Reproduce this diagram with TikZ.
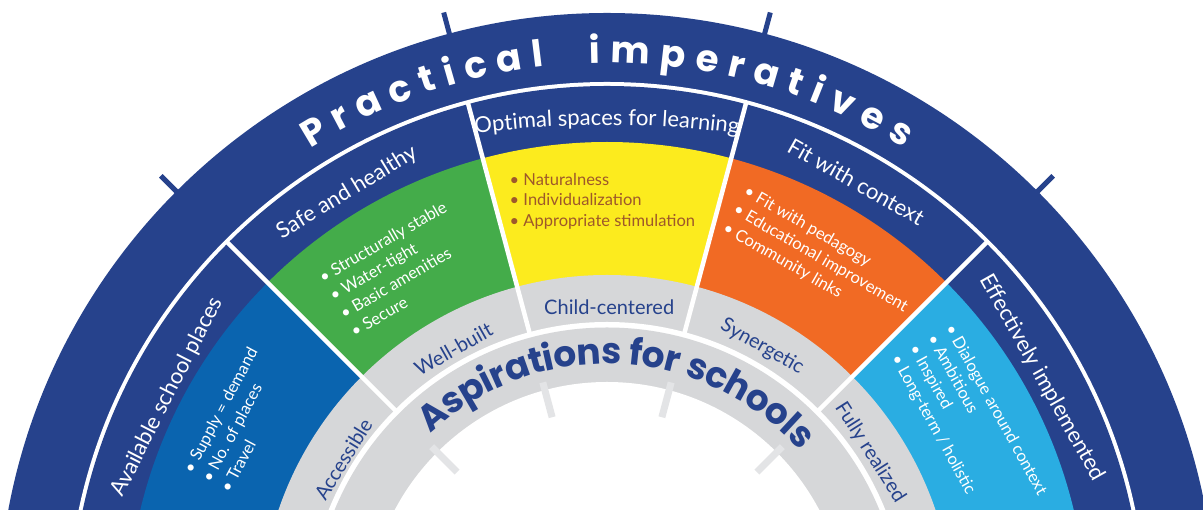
\documentclass[tikz,border=0pt]{standalone}
\usepackage{fontspec}
\setmainfont{Lato}
\newfontfamily\popfont{Poppins}
\usetikzlibrary{calc}
\definecolor{navy}{RGB}{38,66,140}
\definecolor{secblue}{RGB}{10,100,175}
\definecolor{secgreen}{RGB}{68,172,74}
\definecolor{secyellow}{RGB}{252,235,30}
\definecolor{secorange}{RGB}{241,106,36}
\definecolor{seclight}{RGB}{42,173,226}
\definecolor{ringgrey}{RGB}{214,215,217}
\definecolor{tickgrey}{RGB}{227,228,230}
\definecolor{bultext}{RGB}{158,88,42}

\newlength\arcW \newlength\arcAcc \newlength\arcCW
\newcommand\measurechar[2]{%
  \pgfinterruptpicture\settowidth\arcCW{#1#2}\global\arcCW=\arcCW\endpgfinterruptpicture}
% #1 centre, #2 radius, #3 mid angle, #4 tracking, #5 font, #6 node style, #7 name prefix, #8 chars
\newcommand\arctext[8]{%
  \global\arcW=0pt
  \foreach \lchar in {#8}{\measurechar{#5}{\lchar}\global\advance\arcW by \arcCW\global\advance\arcW by #4pt}%
  \global\advance\arcW by -#4pt
  \global\arcAcc=0pt
  \foreach \lchar [count=\lci] in {#8}{%
    \measurechar{#5}{\lchar}%
    \pgfmathsetmacro\lang{#3+(0.5*\arcW-\arcAcc-0.5*\arcCW)/#2*180/pi}%
    \node[#6, inner sep=0pt, anchor=base, rotate=\lang-90] (#7-\lci) at ([shift={(\lang:#2)}]#1) {#5\lchar};
    \global\advance\arcAcc by \arcCW
    \global\advance\arcAcc by #4pt
  }%
}
% #1 x img, #2 y img of first bullet, #3 rotation, #4 line step, #5 style, #6 name prefix, #7 lines
\newcommand\blines[7]{%
  \foreach \ltext [count=\li from 0] in {#7}{%
    \node[#5, inner sep=0pt, anchor=base west, rotate=#3] (#6-\li)
      at ($(#1,510-#2)+({#3-90}:{4.5+#4*\li})+({#3+180}:2.5)$) {\textbullet\ \ltext};
  }%
}

\tikzset{
  hdr/.style={text=white, inner sep=0pt, font=\fontsize{22}{22}\selectfont},
  lbl/.style={text=navy, inner sep=0pt, font=\fontsize{20}{20}\selectfont},
  bul/.style={text=white, font=\fontsize{16.5}{16.5}\selectfont},
}

\begin{document}
\begin{tikzpicture}[x=1pt,y=1pt]
\useasboundingbox (0,0) rectangle (1203,510);
\clip (0,0) rectangle (1203,510);
\coordinate (O) at (607,-112);
\coordinate (O2) at (607,-615);
% outer bands
\fill[navy] (O) circle[radius=609];
\fill[white] (O) circle[radius=540];
\fill[navy] (O) circle[radius=536];
% coloured sectors
\fill[seclight] (O) -- ([shift={(0:480)}]O) arc[start angle=0,end angle=45,radius=480] -- cycle;
\fill[secorange] (O) -- ([shift={(45:480)}]O) arc[start angle=45,end angle=75,radius=480] -- cycle;
\fill[secyellow] (O) -- ([shift={(75:480)}]O) arc[start angle=75,end angle=105,radius=480] -- cycle;
\fill[secgreen] (O) -- ([shift={(105:480)}]O) arc[start angle=105,end angle=135,radius=480] -- cycle;
\fill[secblue] (O) -- ([shift={(135:480)}]O) arc[start angle=135,end angle=180,radius=480] -- cycle;
% grey rings
\fill[ringgrey] (O) circle[radius=347];
\fill[white] (O) circle[radius=300];
\fill[ringgrey] (O) circle[radius=294.5];
\fill[white] (O) circle[radius=240];
% dividers and ticks
\foreach \a in {45,75,105,135}{
  \draw[white, line width=4.5pt] ([shift={(\a:297)}]O) -- ([shift={(\a:538)}]O);
  \draw[navy, line width=5pt] ([shift={(\a:600)}]O) -- ([shift={(\a:631)}]O);
  \draw[tickgrey, line width=7pt] ([shift={(\a:212)}]O) -- ([shift={(\a:248)}]O);
}
% titles
\arctext{O}{559}{90}{9.9}{\popfont\bfseries\fontsize{37}{37}\selectfont}{text=white}{pi}{P,r,a,c,t,i,c,a,l,~,~,i,m,p,e,r,a,t,i,v,e,s}
\arctext{O}{258}{87.4}{-0.5}{\popfont\bfseries\fontsize{36}{36}\selectfont}{text=navy}{as}{A,s,p,i,r,a,t,i,o,n,s,~,f,o,r,~,s,c,h,o,o,l,s}
\arctext{O2}{1000}{90}{0}{\fontsize{22}{22}\selectfont}{text=white}{op}{O,p,t,i,m,a,l,~,s,p,a,c,e,s,~,f,o,r,~,l,e,a,r,n,i,n,g}
% headers
\node[hdr, rotate=62.9] (h-avail) at ([shift={(152.9:494)}]O) {Available school places};
\node[hdr, rotate=31.2] (h-safe) at ([shift={(121.2:502)}]O) {Safe and healthy};
\node[hdr, rotate=-29.5] (h-fit) at ([shift={(60.5:506)}]O) {Fit with context};
\node[hdr, rotate=-60.7] (h-eff) at ([shift={(29.3:499)}]O) {Effectively implemented};
% grey labels
\node[lbl, rotate=58.3] (l-acc) at ([shift={(148.3:310)}]O) {Accessible};
\node[lbl, rotate=29.5] (l-well) at ([shift={(119.4:313)}]O) {Well-built};
\node[lbl] (l-child) at ([shift={(89.6:314.5)}]O) {Child-centered};
\node[lbl, rotate=-29.4] (l-syn) at ([shift={(60.6:316)}]O) {Synergetic};
\node[lbl, rotate=-57.5] (l-full) at ([shift={(32.8:313)}]O) {Fully realized};
% bullet lists
\blines{190}{470}{62}{21}{bul}{bb}{Supply = demand,No. of places,Travel}
\blines{323}{278}{30}{21}{bul}{bg}{Structurally stable,Water-tight,Basic amenities,Secure}
\blines{512}{181}{0}{20.5}{bul,text=bultext}{by}{Naturalness,Individualization,Appropriate stimulation}
\blines{747}{192}{-30}{21}{bul}{bo}{Fit with pedagogy,Educational improvement,Community links}
\blines{950}{328}{-61}{20.6}{bul}{bl}{Dialogue around context,Ambitious,Inspired,Long-term / holistic}
\end{tikzpicture}
\end{document}
